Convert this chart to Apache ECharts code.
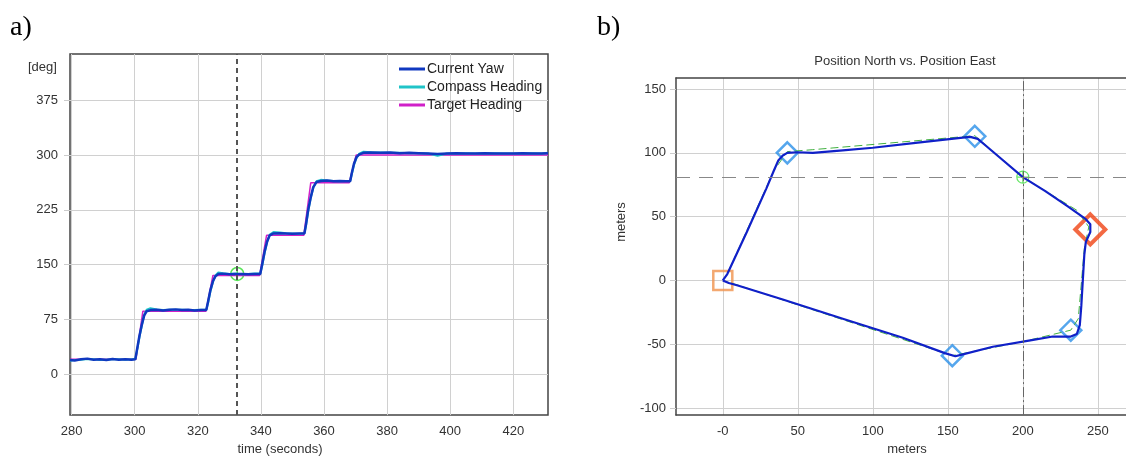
<!DOCTYPE html>
<html>
<head>
<meta charset="utf-8">
<script src="https://cdn.jsdelivr.net/npm/echarts@6/dist/echarts.min.js"></script>
<style>
  html, body { margin: 0; padding: 0; background: #fff; }
  #chart { width: 1126px; height: 461px; }
</style>
</head>
<body>
<div id="chart"></div>
<script>
// panel a) heading vs time
const yawTime = [279.5, 281, 283, 285, 287, 289, 291, 293, 295, 297, 299, 300.2,
  300.8, 301.5, 302.3, 303, 303.8, 305, 307, 309, 311, 313, 315, 317, 319, 321, 322.7,
  323.3, 324, 324.8, 325.6, 326.5, 328, 330, 332, 334, 336, 338, 339.8,
  340.4, 341.2, 342, 342.8, 344, 346, 348, 350, 352, 353.8,
  354.3, 355, 355.8, 356.6, 357.6, 359, 361, 363, 365, 367, 368.3,
  368.8, 369.5, 370.3, 371.2, 372.5, 375, 378, 381, 384, 387, 390, 393, 396, 399, 402, 405, 408, 411, 414, 417, 420, 423, 426, 429, 431]
const yawDeg = [19, 18.5, 20, 21, 19.5, 20, 19, 20.5, 19.5, 20, 19.5, 20,
  35, 52, 68, 80, 86, 87.5, 88, 87, 88, 88.5, 87.5, 88, 87, 87.5, 87.5,
  100, 115, 127, 134, 137, 137.5, 136.5, 137, 137, 136.5, 137, 137,
  150, 168, 182, 190, 192.5, 193, 192.5, 192, 192.5, 192.5,
  205, 225, 242, 256, 263, 264.5, 265, 264, 264.5, 264, 264,
  275, 288, 297, 301, 303, 303.5, 303, 303.5, 302.5, 303, 302.5, 302, 301.5, 302, 302.5, 302, 302, 302.5, 302, 302, 302, 302.5, 302, 302, 302.5]
const compassDeg = [18, 19, 19.5, 20.5, 20, 19, 19.5, 20, 20, 19.5, 20, 20.5,
  33, 50, 67, 81, 88, 90, 88.5, 87.5, 88, 88, 88, 87.5, 87.5, 88, 88,
  98, 113, 126, 135, 139, 138, 137, 137.5, 136.5, 137, 137.5, 137.5,
  148, 166, 181, 191, 194.5, 194, 193, 192.5, 192, 193,
  203, 223, 241, 255, 264, 266, 265, 264.5, 264, 264.5, 264.5,
  273, 286, 296, 302, 304.5, 304, 303.5, 303, 303, 302.5, 302.5, 302, 299, 302, 302, 302.5, 302, 302, 302.5, 302, 302, 302, 302.5, 302, 303]
const targetTime = [279.5, 300.4, 302.6, 322.6, 324.8, 339.6, 341.8, 353.6, 355.8, 368, 370.2, 431]
const targetDeg = [20, 20, 86, 86, 135, 135, 190, 190, 262, 262, 300, 300]
const cursorTime = 332.5
const cursorDeg = 137
const degTicks = [0, 75, 150, 225, 300, 375]
const timeTicks = [280, 300, 320, 340, 360, 380, 400, 420]

// panel b) north vs east track
const pathEast = [0, 3, 16, 29, 34, 37, 40, 43, 50, 60, 80, 100, 130, 160, 165, 170, 175, 185, 200, 215, 230, 242, 245, 245, 242,
  241, 240, 239, 238, 236, 232, 220, 205, 180, 160, 155, 148, 120, 80, 40, 10, 4, 0]
const pathNorth = [0, 5, 38, 72, 86, 94, 98, 100, 100.5, 100, 102, 104, 108, 112, 112.5, 111, 106, 96, 81, 70, 58, 48, 44, 38, 30,
  20, 0, -20, -35, -42, -44, -44, -47, -52, -58, -59.5, -57, -45, -30, -15, -4, -2, 0]
const planEast = [3, 34, 43, 60, 168, 200, 236, 244, 241, 237, 232, 200, 153, 3]
const planNorth = [5, 86, 101, 102.5, 113.5, 81, 55, 42, 25, -30, -39, -48, -59, -1]
const waypointEast = [43, 168, 232, 153]
const waypointNorth = [100, 113, -39, -59]
const targetPoint = [245, 40]
const homePoint = [0, 0]
const crossPoint = [200, 81]
const northTicks = [-100, -50, 0, 50, 100, 150]
const eastTicks = [0, 50, 100, 150, 200, 250]

const zip = (a, b) => a.map((v, i) => [v, b[i]])
const crossSymbol = 'path://M0,-10A10,10 0 1 1 0,10A10,10 0 1 1 0,-10M-10,0L10,0M0,-10L0,10'
const font = 'Liberation Sans'
const labelStyle = { color: '#333', fontSize: 13, fontFamily: font }
const frameLine = { show: true, onZero: false, lineStyle: { color: '#444', width: 1.5 } }

const chart = echarts.init(document.getElementById('chart'))

const option = {
  animation: false,
  textStyle: { fontFamily: font },
  graphic: [
    { type: 'text', left: 10, top: 14, style: { text: 'a)', font: '28px "Liberation Serif"', fill: '#000' } },
    { type: 'text', left: 597, top: 14, style: { text: 'b)', font: '28px "Liberation Serif"', fill: '#000' } },
    { type: 'text', left: 28, top: 61, style: { text: '[deg]', font: '13px "Liberation Sans"', fill: '#333' } },
    { type: 'text', x: 621, y: 222, rotation: Math.PI / 2, style: { text: 'meters', font: '13px "Liberation Sans"', fill: '#333', align: 'center', verticalAlign: 'middle' } },
    { type: 'text', x: 905, y: 61, style: { text: 'Position North vs. Position East', font: '13px "Liberation Sans"', fill: '#333', align: 'center', verticalAlign: 'middle' } }
  ],
  legend: {
    orient: 'vertical',
    left: 394,
    top: 57,
    itemWidth: 26,
    itemHeight: 3,
    itemGap: 4,
    icon: 'rect',
    textStyle: { color: '#222', fontSize: 14, fontFamily: font, padding: [0, 0, 0, -3] },
    data: ['Current Yaw', 'Compass Heading', 'Target Heading']
  },
  grid: [
    { left: 70, top: 54, width: 478, height: 366, show: true, borderColor: '#444', borderWidth: 1.5 },
    { left: 676, top: 78, width: 450, height: 345 }
  ],
  xAxis: [
    {
      gridIndex: 0, type: 'value', min: 279.5, max: 431,
      name: 'time (seconds)', nameLocation: 'middle', nameGap: 23,
      nameTextStyle: { ...labelStyle, padding: [0, 58, 0, 0] },
      axisLine: { show: false },
      axisTick: { show: false, customValues: timeTicks },
      axisLabel: { ...labelStyle, customValues: timeTicks, margin: 10 },
      splitLine: { lineStyle: { color: '#d0d0d0', width: 1 } }
    },
    {
      gridIndex: 1, type: 'value', min: -31.2, max: 268.8,
      name: 'meters', nameLocation: 'middle', nameGap: 23,
      nameTextStyle: { ...labelStyle, padding: [0, 0, 0, 12] },
      axisLine: frameLine,
      axisTick: { show: false, customValues: eastTicks },
      axisLabel: { ...labelStyle, customValues: eastTicks, margin: 10, formatter: v => (v === 0 ? '-0' : String(v)) },
      splitLine: { lineStyle: { color: '#d0d0d0', width: 1 } }
    },
    {
      // top frame edge of panel b
      gridIndex: 1, type: 'value', position: 'top', min: -31.2, max: 268.8,
      axisLine: frameLine, axisTick: { show: false }, axisLabel: { show: false }, splitLine: { show: false }
    }
  ],
  yAxis: [
    {
      gridIndex: 0, type: 'value', min: -56.4, max: 438.5,
      axisLine: { show: false },
      axisTick: { show: true, length: 6, customValues: degTicks, lineStyle: { color: '#ccc' } },
      axisLabel: { ...labelStyle, customValues: degTicks, margin: 12 },
      splitLine: { lineStyle: { color: '#d0d0d0', width: 1 } }
    },
    {
      gridIndex: 1, type: 'value', min: -105.6, max: 158.7,
      axisLine: frameLine,
      axisTick: { show: true, length: 6, customValues: northTicks, lineStyle: { color: '#ccc' } },
      axisLabel: { ...labelStyle, customValues: northTicks, margin: 10 },
      splitLine: { lineStyle: { color: '#d0d0d0', width: 1 } }
    }
  ],
  series: [
    {
      name: 'Target Heading', type: 'line', xAxisIndex: 0, yAxisIndex: 0,
      data: zip(targetTime, targetDeg), showSymbol: false, symbol: 'none',
      color: '#d020c8', lineStyle: { width: 1.5 }
    },
    {
      name: 'Compass Heading', type: 'line', xAxisIndex: 0, yAxisIndex: 0,
      data: zip(yawTime, compassDeg), showSymbol: false, symbol: 'none',
      color: '#20c4c8', lineStyle: { width: 2 }
    },
    {
      name: 'Current Yaw', type: 'line', xAxisIndex: 0, yAxisIndex: 0,
      data: zip(yawTime, yawDeg), showSymbol: false, symbol: 'none',
      color: '#1038c0', lineStyle: { width: 2.5 },
      markLine: {
        silent: true, symbol: 'none', label: { show: false },
        lineStyle: { color: '#555', type: [5, 4], width: 2 },
        data: [{ xAxis: cursorTime }]
      }
    },
    {
      type: 'scatter', xAxisIndex: 0, yAxisIndex: 0,
      data: [[cursorTime, cursorDeg]], symbol: crossSymbol, symbolSize: 13,
      itemStyle: { color: 'rgba(0,0,0,0)', borderColor: '#30e030', borderWidth: 1.5 }
    },
    // panel b
    {
      type: 'line', xAxisIndex: 1, yAxisIndex: 1,
      data: zip(planEast, planNorth), symbol: 'none',
      lineStyle: { color: '#40b040', width: 1, type: [8, 4] },
      markLine: {
        silent: true, symbol: 'none', label: { show: false },
        data: [
          { yAxis: crossPoint[1], lineStyle: { color: '#888', type: [14, 9], width: 1.2 } },
          { xAxis: crossPoint[0], lineStyle: { color: '#666', type: [10, 3, 2, 3], width: 1 } }
        ]
      }
    },
    {
      type: 'line', xAxisIndex: 1, yAxisIndex: 1,
      data: zip(pathEast, pathNorth), symbol: 'none',
      lineStyle: { color: '#1020c8', width: 2.2 }
    },
    {
      type: 'scatter', xAxisIndex: 1, yAxisIndex: 1,
      data: [homePoint], symbol: 'rect', symbolSize: 19,
      itemStyle: { color: 'rgba(0,0,0,0)', borderColor: '#f0924c', borderWidth: 2.5 }
    },
    {
      type: 'scatter', xAxisIndex: 1, yAxisIndex: 1,
      data: zip(waypointEast, waypointNorth), symbol: 'diamond', symbolSize: 21,
      itemStyle: { color: 'rgba(0,0,0,0)', borderColor: '#2a90e8', borderWidth: 2.5 }
    },
    {
      type: 'scatter', xAxisIndex: 1, yAxisIndex: 1,
      data: [targetPoint], symbol: 'diamond', symbolSize: 30,
      itemStyle: { color: 'rgba(0,0,0,0)', borderColor: '#f04414', borderWidth: 4 }
    },
    {
      type: 'scatter', xAxisIndex: 1, yAxisIndex: 1,
      data: [crossPoint], symbol: crossSymbol, symbolSize: 12,
      itemStyle: { color: 'rgba(0,0,0,0)', borderColor: '#40e040', borderWidth: 1.2 }
    }
  ]
}

chart.setOption(option)
</script>
</body>
</html>
